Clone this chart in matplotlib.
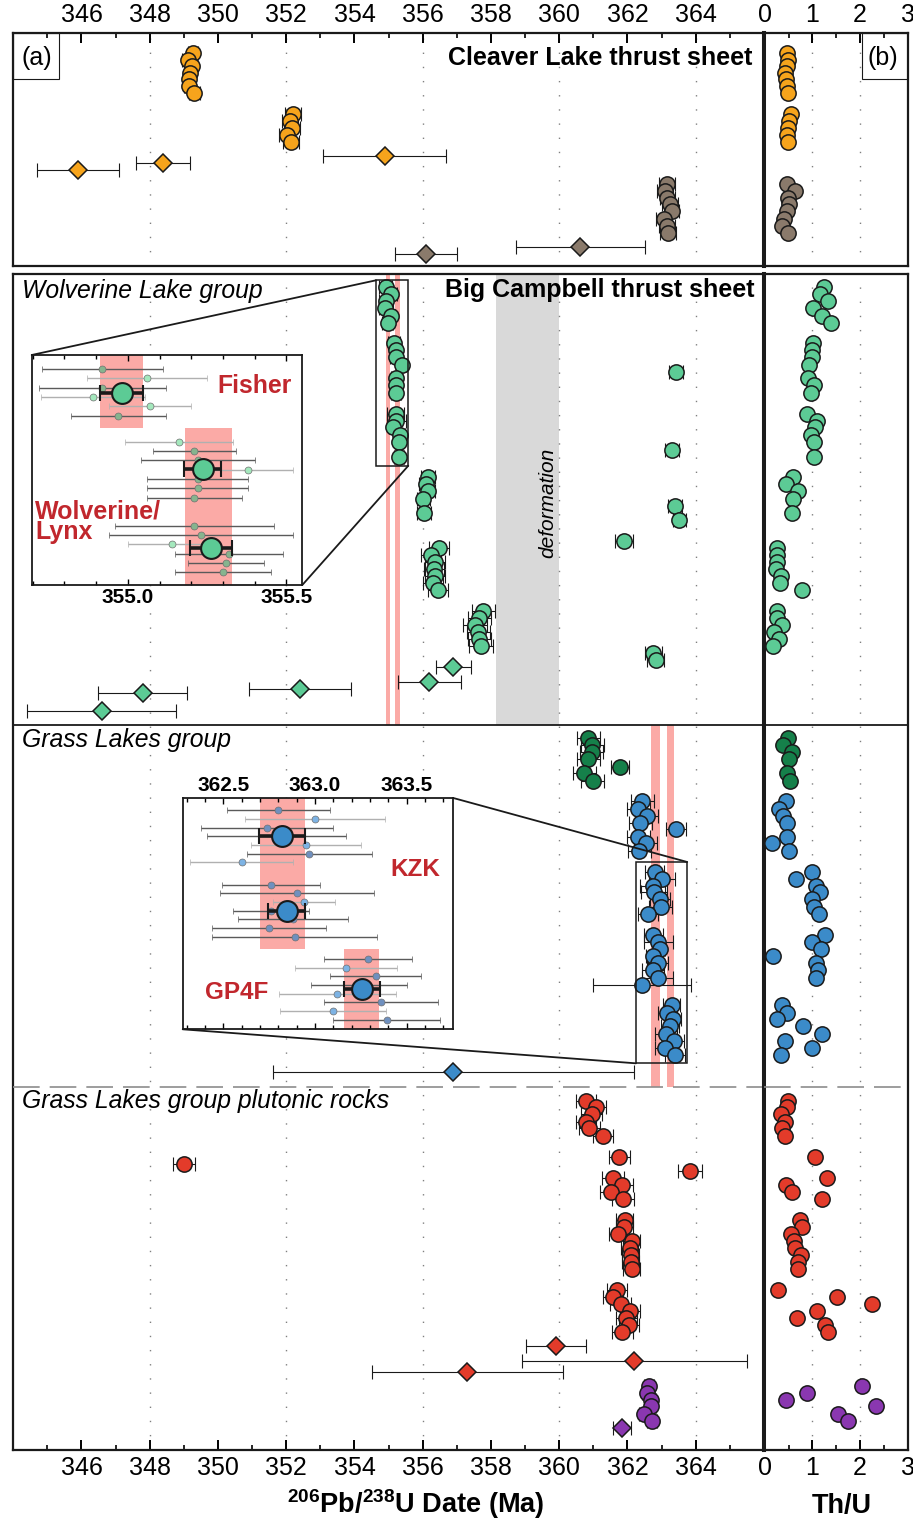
import matplotlib
matplotlib.use('Agg')
import matplotlib.pyplot as plt
from matplotlib.patches import Rectangle, ConnectionPatch
from matplotlib.ticker import FixedLocator, MultipleLocator, FormatStrFormatter

plt.rcParams['font.family'] = ['Liberation Sans', 'DejaVu Sans']
plt.rcParams['mathtext.fontset'] = 'custom'
plt.rcParams['mathtext.rm'] = 'Liberation Sans'
plt.rcParams['mathtext.bf'] = 'Liberation Sans:bold'

# ---------------- data ----------------
# rows = position of each grain in the stacked list (top panel / lower panel)

# Cleaver Lake thrust sheet
cl1_date = [349.26, 349.11, 349.23, 349.18, 349.14, 349.16, 349.31]
cl1_row = [2.8, 3.8, 4.7, 5.7, 6.6, 7.6, 8.6]
cl1_thu = [0.46, 0.49, 0.46, 0.42, 0.44, 0.47, 0.48]
cl2_date = [352.19, 352.11, 352.17, 352.03, 352.14]
cl2_row = [11.6, 12.6, 13.5, 14.6, 15.6]
cl2_thu = [0.55, 0.51, 0.49, 0.47, 0.48]
cl_dia_date = [354.89, 348.40, 345.89]
cl_dia_err = [1.80, 0.79, 1.20]
cl_dia_row = [17.6, 18.6, 19.6]
cl3_date = [363.15, 363.10, 363.17, 363.24, 363.29, 363.08, 363.15, 363.19]
cl3_row = [21.5, 22.5, 23.5, 24.4, 25.4, 26.5, 27.5, 28.5]
cl3_thu = [0.46, 0.63, 0.49, 0.51, 0.46, 0.41, 0.35, 0.48]
cl3_dia_date = [360.61, 356.10]
cl3_dia_err = [1.89, 0.91]
cl3_dia_row = [30.5, 31.5]

# Wolverine Lake group (Fisher, Wolverine/Lynx)
fi_date = [354.92, 355.06, 354.92, 354.89, 355.07, 354.97]
fi_err = [0.19, 0.19, 0.20, 0.165, 0.13, 0.15]
fi_light = [0, 1, 0, 1, 1, 0]
fi_row = [1.9, 2.9, 3.9, 4.9, 6.0, 7.0]
fi_thu = [1.25, 1.16, 1.32, 1.02, 1.21, 1.39]
fi_mean, fi_mean_err = 354.981, 0.068
wl1_date = [355.16, 355.21, 355.22, 355.38, 355.22, 355.22, 355.21]
wl1_err = [0.17, 0.13, 0.18, 0.14, 0.16, 0.16, 0.15]
wl1_light = [1, 0, 0, 1, 0, 0, 0]
wl1_row = [9.9, 10.9, 11.9, 13.0, 14.9, 15.9, 17.0]
wl1_thu = [1.02, 1.00, 0.98, 0.93, 0.91, 1.03, 0.97]
wl1_mean, wl1_mean_err = 355.236, 0.058
wl2_date = [355.21, 355.23, 355.14, 355.32, 355.31, 355.30]
wl2_err = [0.25, 0.29, 0.14, 0.17, 0.12, 0.15]
wl2_light = [0, 0, 1, 0, 0, 0]
wl2_row = [20.0, 21.0, 21.9, 23.0, 24.0, 26.1]
wl2_thu = [0.89, 1.10, 1.05, 0.97, 1.03, 1.03]
wl2_mean, wl2_mean_err = 355.262, 0.065
wl_bands = [(354.913, 355.049), (355.179, 355.328)]

g4_date = [356.145, 356.09, 356.145, 356.02, 356.04]
g4_row = [29.0, 30.0, 31.0, 32.1, 34.1]
g4_thu = [0.58, 0.44, 0.69, 0.58, 0.56]
g5_date = [356.485, 356.24, 356.36, 356.34, 356.36, 356.29, 356.45]
g5_row = [39.1, 40.1, 41.2, 42.1, 43.1, 44.2, 45.2]
g5_thu = [0.26, 0.26, 0.26, 0.23, 0.34, 0.32, 0.79]
g6_date = [357.77, 357.66, 357.53, 357.63, 357.66, 357.71]
g6_row = [48.1, 49.1, 50.1, 51.1, 52.1, 53.2]
g6_thu = [0.25, 0.25, 0.35, 0.20, 0.30, 0.16]
g_old_date = [363.42, 363.31, 363.40, 363.52, 361.90, 362.76, 362.83]
g_old_err = [0.2, 0.2, 0.2, 0.2, 0.27, 0.25, 0.25]
g_old_row = [14.0, 25.1, 33.1, 35.1, 38.1, 54.2, 55.2]
g_dia_date = [356.90, 356.19, 352.40, 347.79, 346.59]
g_dia_err = [0.50, 0.92, 1.50, 1.30, 2.18]
g_dia_row = [56.2, 58.3, 59.3, 59.8, 62.4]
deformation = (358.15, 360.0)

# Grass Lakes group
dg_date = [360.85, 360.97, 360.95, 360.85, 360.73, 360.98]
dg_row = [66.3, 67.3, 68.3, 69.3, 71.3, 72.4]
dg_thu = [0.48, 0.39, 0.56, 0.51, 0.46, 0.53]
dg_old_date = [361.78]
dg_old_row = [70.4]
b1_date = [362.43, 362.32, 362.56, 362.38, 362.32, 362.53, 362.35]
b1_row = [75.3, 76.4, 77.4, 78.4, 80.4, 81.3, 82.4]
b1_thu = [0.44, 0.29, 0.39, 0.46, 0.46, 0.15, 0.51]
b_old_date = [363.42, 362.43]
b_old_err = [0.30, 1.43]
b_old_row = [79.3, 101.5]
kz1_date = [362.80, 363.00, 362.736, 362.79, 362.949, 362.969, 362.60]
kz1_err = [0.28, 0.38, 0.36, 0.38, 0.30, 0.34, 0.28]
kz1_light = [0, 1, 0, 0, 1, 0, 1]
kz1_row = [85.4, 86.4, 87.4, 88.3, 89.3, 90.4, 91.4]
kz1_thu = [1.00, 0.65, 1.07, 1.16, 1.00, 1.03, 1.14]
kz1_mean, kz1_mean_err = 362.822, 0.126
kz2_date = [362.76, 362.90, 362.94, 362.76, 362.882, 362.749, 362.889]
kz2_err = [0.27, 0.42, 0.17, 0.21, 0.30, 0.31, 0.45]
kz2_light = [0, 0, 1, 0, 0, 0, 0]
kz2_row = [94.4, 95.4, 96.4, 97.4, 98.4, 99.4, 100.5]
kz2_thu = [1.26, 0.98, 1.18, 0.17, 1.07, 1.12, 1.07]
kz2_mean, kz2_mean_err = 362.845, 0.103
gp_date = [363.291, 363.169, 363.331, 363.24, 363.122, 363.36, 363.10, 363.391]
gp_err = [0.24, 0.28, 0.25, 0.26, 0.32, 0.31, 0.29, 0.29]
gp_light = [0, 1, 0, 0, 1, 0, 1, 0]
gp_row = [104.4, 105.5, 106.4, 107.4, 108.5, 109.5, 110.5, 111.5]
gp_thu = [0.36, 0.46, 0.26, 0.81, 1.19, 0.42, 1.00, 0.34]
gp_mean, gp_mean_err = 363.255, 0.098
gl_bands = [(362.70, 362.944), (363.158, 363.351)]
b_dia_date = [356.90]
b_dia_err = [5.30]
b_dia_row = [114.0]

# Grass Lakes group plutonic rocks
r1_date = [360.78, 361.08, 360.95, 360.78, 360.88, 361.28, 361.76]
r1_row = [118.1, 119.0, 120.0, 121.1, 122.0, 123.1, 126.1]
r1_thu = [0.48, 0.46, 0.33, 0.42, 0.36, 0.42, 1.05]
r_old_date = [349.01, 363.83]
r_old_err = [0.33, 0.34]
r_old_row = [127.2, 128.1]
r2_date = [361.58, 361.83, 361.52, 361.86]
r2_row = [129.2, 130.1, 131.2, 132.1]
r2_thu = [1.30, 0.44, 0.56, 1.19]
r3_date = [361.92, 361.90, 361.72, 362.12, 362.07, 362.10, 362.09, 362.12]
r3_row = [135.1, 136.1, 137.1, 138.1, 139.2, 140.1, 141.2, 142.2]
r3_thu = [0.74, 0.77, 0.54, 0.61, 0.63, 0.76, 0.69, 0.70]
r4_date = [361.70, 361.58, 361.80, 362.07, 361.97, 362.05, 361.85]
r4_row = [145.1, 146.2, 147.1, 148.1, 149.2, 150.2, 151.2]
r4_thu = [0.27, 1.52, 2.26, 1.10, 0.67, 1.26, 1.32]
r_dia_date = [359.90, 362.20, 357.30]
r_dia_err = [0.88, 3.30, 2.80]
r_dia_row = [153.2, 155.3, 156.8]
p_date = [362.63, 362.58, 362.68, 362.68, 362.49, 362.72]
p_row = [158.8, 159.8, 160.8, 161.7, 162.8, 163.8]
p_thu = [2.05, 0.89, 0.44, 2.33, 1.53, 1.74]
p_dia_date = [361.84]
p_dia_err = [0.27]
p_dia_row = [164.8]

# ---------------- style ----------------
ORANGE = '#f6a41c'
BROWN = '#8a7a6b'
GREEN = '#5ccb95'
DKGREEN = '#15804a'
BLUE = '#3b8bc9'
RED = '#e33b2a'
PURPLE = '#8a37b0'
PINK = '#fbaaa6'
DARKRED = '#c1272d'
EDGE = '#1a1a1a'

W, H = 913, 1520
fig = plt.figure(figsize=(W / 100, H / 100), dpi=100)


def px_axes(x0, y0, x1, y1):
    return fig.add_axes([x0 / W, 1 - y1 / H, (x1 - x0) / W, (y1 - y0) / H])


axa_t = px_axes(13.2, 33, 764, 266)
axa_b = px_axes(13.2, 274, 764, 1450)
axb_t = px_axes(764, 33, 908, 266)
axb_b = px_axes(764, 274, 908, 1450)

for ax in (axa_t, axa_b):
    ax.set_xlim(344, 366)
    ax.xaxis.set_major_locator(FixedLocator(range(346, 365, 2)))
    ax.xaxis.set_minor_locator(FixedLocator(range(345, 366, 2)))
    for g in range(348, 365, 4):
        ax.axvline(g, color='#808080', lw=1.0, dashes=(1, 9.2), zorder=1)
for ax in (axb_t, axb_b):
    ax.set_xlim(-0.02, 3.01)
    ax.xaxis.set_major_locator(FixedLocator([0, 1, 2, 3]))
    ax.xaxis.set_minor_locator(FixedLocator([0.5, 1.5, 2.5]))
    for g in (1, 2):
        ax.axvline(g, color='#808080', lw=1.0, dashes=(1, 9.2), zorder=1)
for ax in (axa_t, axb_t):
    ax.set_ylim(233 / 7, 0)
    ax.tick_params(which='both', direction='in', top=True, bottom=False,
                   labeltop=True, labelbottom=False)
for ax in (axa_b, axb_b):
    ax.set_ylim(1176 / 7, 0)
    ax.tick_params(which='both', direction='in', top=False, bottom=True,
                   labeltop=False, labelbottom=True)
for ax in (axa_t, axa_b, axb_t, axb_b):
    ax.set_yticks([])
    ax.tick_params(which='major', length=7, width=1.4, labelsize=18, pad=4)
    ax.tick_params(which='minor', length=3.5, width=1.2)
    for s in ax.spines.values():
        s.set_linewidth(1.6)
        s.set_color(EDGE)
for ax in (axa_t, axa_b):
    ax.spines['right'].set_linewidth(2.9)
for ax in (axb_t, axb_b):
    ax.spines['left'].set_linewidth(2.9)


def circles(ax, axt, date, row, err, color, thu=None):
    ax.errorbar(date, row, xerr=err, fmt='none', ecolor=EDGE, elinewidth=0.8,
                capsize=5, capthick=0.8, zorder=3)
    ax.plot(date, row, 'o', ms=11, mfc=color, mec=EDGE, mew=1.1, ls='none', zorder=4)
    if thu is not None:
        axt.plot(thu, row, 'o', ms=11, mfc=color, mec=EDGE, mew=1.1, ls='none', zorder=4)


def diamonds(ax, date, row, err, color):
    ax.errorbar(date, row, xerr=err, fmt='none', ecolor=EDGE, elinewidth=0.8,
                capsize=5, capthick=0.8, zorder=3)
    ax.plot(date, row, 'D', ms=9.5, mfc=color, mec=EDGE, mew=1.1, ls='none', zorder=4)


# ---- Cleaver Lake
circles(axa_t, axb_t, cl1_date, cl1_row, 0.15, ORANGE, cl1_thu)
circles(axa_t, axb_t, cl2_date, cl2_row, 0.23, ORANGE, cl2_thu)
diamonds(axa_t, cl_dia_date, cl_dia_row, cl_dia_err, ORANGE)
circles(axa_t, axb_t, cl3_date, cl3_row, 0.23, BROWN, cl3_thu)
diamonds(axa_t, cl3_dia_date, cl3_dia_row, cl3_dia_err, BROWN)

# ---- Wolverine Lake group
wl_bottom = 64.4
gl_bottom = 116.1
axa_b.fill_betweenx([0, wl_bottom], *deformation, color='#d9d9d9', lw=0, zorder=0.5)
for lo, hi in wl_bands:
    axa_b.fill_betweenx([0, wl_bottom], lo, hi, color=PINK, lw=0, zorder=2)
for lo, hi in gl_bands:
    axa_b.fill_betweenx([wl_bottom, gl_bottom], lo, hi, color=PINK, lw=0, zorder=2)

circles(axa_b, axb_b, fi_date, fi_row, fi_err, GREEN, fi_thu)
circles(axa_b, axb_b, wl1_date, wl1_row, wl1_err, GREEN, wl1_thu)
circles(axa_b, axb_b, wl2_date, wl2_row, wl2_err, GREEN, wl2_thu)
circles(axa_b, axb_b, g4_date, g4_row, 0.2, GREEN, g4_thu)
circles(axa_b, axb_b, g5_date, g5_row, 0.29, GREEN, g5_thu)
circles(axa_b, axb_b, g6_date, g6_row, 0.34, GREEN, g6_thu)
circles(axa_b, axb_b, g_old_date, g_old_row, g_old_err, GREEN)
diamonds(axa_b, g_dia_date, g_dia_row, g_dia_err, GREEN)

# ---- Grass Lakes group
circles(axa_b, axb_b, dg_date, dg_row, 0.34, DKGREEN, dg_thu)
circles(axa_b, axb_b, dg_old_date, dg_old_row, 0.25, DKGREEN)
circles(axa_b, axb_b, b1_date, b1_row, 0.34, BLUE, b1_thu)
circles(axa_b, axb_b, kz1_date, kz1_row, kz1_err, BLUE, kz1_thu)
circles(axa_b, axb_b, kz2_date, kz2_row, kz2_err, BLUE, kz2_thu)
circles(axa_b, axb_b, gp_date, gp_row, gp_err, BLUE, gp_thu)
circles(axa_b, axb_b, b_old_date, b_old_row, b_old_err, BLUE)
diamonds(axa_b, b_dia_date, b_dia_row, b_dia_err, BLUE)

# ---- plutonic rocks
circles(axa_b, axb_b, r1_date, r1_row, 0.3, RED, r1_thu)
circles(axa_b, axb_b, r_old_date, r_old_row, r_old_err, RED)
circles(axa_b, axb_b, r2_date, r2_row, 0.32, RED, r2_thu)
circles(axa_b, axb_b, r3_date, r3_row, 0.25, RED, r3_thu)
circles(axa_b, axb_b, r4_date, r4_row, 0.3, RED, r4_thu)
diamonds(axa_b, r_dia_date, r_dia_row, r_dia_err, RED)
circles(axa_b, axb_b, p_date, p_row, 0.15, PURPLE, p_thu)
diamonds(axa_b, p_dia_date, p_dia_row, p_dia_err, PURPLE)

# separators
for ax in (axa_b, axb_b):
    ax.axhline(wl_bottom, color=EDGE, lw=1.3, zorder=5)
    ax.axhline(gl_bottom, color='#8c8c8c', lw=1.2, dashes=(16, 6), zorder=5)

# labels in panels
axa_t.add_patch(Rectangle((344, 0), 46 / 34.13, 46 / 7, fill=False, ec=EDGE, lw=0.8, zorder=6))
axa_t.text(344.69, 3.6, '(a)', fontsize=18, ha='center', va='center')
axb_t.add_patch(Rectangle((2.05, 0), 0.96, 46 / 7, fill=False, ec=EDGE, lw=0.8, zorder=6))
axb_t.text(2.47, 3.6, '(b)', fontsize=18, ha='center', va='center')
axa_t.text(365.65, 4.57, 'Cleaver Lake thrust sheet', fontsize=18, fontweight='bold',
           ha='right', va='baseline')
axa_b.text(365.73, 3.25, 'Big Campbell thrust sheet', fontsize=18, fontweight='bold',
           ha='right', va='baseline')
axa_b.text(344.26, 3.4, 'Wolverine Lake group', fontsize=17.8, style='italic', va='baseline')
axa_b.text(344.26, 67.5, 'Grass Lakes group', fontsize=17.8, style='italic', va='baseline')
axa_b.text(344.26, 119.1, 'Grass Lakes group plutonic rocks', fontsize=17.8, style='italic',
           va='baseline')
axa_b.text(359.67, 32.7, 'deformation', fontsize=15, style='italic', rotation=90,
           ha='center', va='center')

fig.text(415.5 / W, 1 - 1513 / H, r'$^{\mathbf{206}}$Pb/$^{\mathbf{238}}$U Date (Ma)',
         fontsize=19.5, fontweight='bold', ha='center', va='baseline')
fig.text(842 / W, 1 - 1513 / H, 'Th/U', fontsize=19.5, fontweight='bold',
         ha='center', va='baseline')

# zoom boxes on the main panel
box1 = (354.63, 0.9, 355.576, 27.4)
box2 = (362.248, 84.0, 363.75, 112.76)
for x0, y0, x1, y1 in (box1, box2):
    axa_b.add_patch(Rectangle((x0, y0), x1 - x0, y1 - y0, fill=False, ec=EDGE,
                              lw=1.1, zorder=6))


def inset_group(ax, date, row, err, light, mean, mean_err, mean_row, pale, dull, color):
    for d, r, e, li in zip(date, row, err, light):
        ax.errorbar(d, r, xerr=e, fmt='o', ms=5, mfc=pale if li else dull,
                    mec='#707070', mew=0.5, ecolor='#b0b0b0' if li else '#5a5a5a',
                    elinewidth=1.0, capsize=2.4, capthick=1.0, zorder=3)
    ax.errorbar(mean, mean_row, xerr=mean_err, fmt='o', ms=15, mfc=color, mec=EDGE,
                mew=1.5, ecolor=EDGE, elinewidth=2.6, capsize=5.6, capthick=2.6, zorder=5)


def style_inset(ax, labels_top):
    ax.set_yticks([])
    ax.xaxis.set_major_formatter(FormatStrFormatter('%.1f'))
    ax.tick_params(which='both', direction='in', top=True, bottom=True,
                   labeltop=labels_top, labelbottom=not labels_top)
    ax.tick_params(which='major', length=4.5, width=1.0, labelsize=15, pad=2)
    ax.tick_params(which='minor', length=2.6, width=1.0)
    for lbl in ax.get_xticklabels():
        lbl.set_fontweight('bold')
    for s in ax.spines.values():
        s.set_linewidth(1.3)
        s.set_color(EDGE)


# inset (Wolverine Lake group)
ins1 = px_axes(31.7, 355, 302.3, 585)
ins1.set_xlim(354.697, 355.55)
ins1.set_ylim(24.65, 0)
ins1.xaxis.set_major_locator(FixedLocator([355.0, 355.5]))
ins1.xaxis.set_minor_locator(MultipleLocator(0.1))
ins1.fill_betweenx([0, 7.86], *wl_bands[0], color=PINK, lw=0, zorder=1)
ins1.fill_betweenx([7.86, 24.65], *wl_bands[1], color=PINK, lw=0, zorder=1)
inset_group(ins1, fi_date, [r + 1.5 for r in range(6)], fi_err, fi_light,
            fi_mean, fi_mean_err, 4.04, '#a4e8bd', '#86b48e', GREEN)
inset_group(ins1, wl1_date, [r + 9.3 for r in range(7)], wl1_err, wl1_light,
            wl1_mean, wl1_mean_err, 12.25, '#a4e8bd', '#86b48e', GREEN)
inset_group(ins1, wl2_date, [r + 18.3 for r in range(6)], wl2_err, wl2_light,
            wl2_mean, wl2_mean_err, 20.7, '#a4e8bd', '#86b48e', GREEN)
ins1.text(355.283, 4.04, 'Fisher', fontsize=17.8, fontweight='bold', color=DARKRED,
          va='baseline')
ins1.text(354.708, 17.5, 'Wolverine/', fontsize=18, fontweight='bold', color=DARKRED,
          va='baseline')
ins1.text(354.708, 19.75, 'Lynx', fontsize=18, fontweight='bold', color=DARKRED,
          va='baseline')
style_inset(ins1, False)

# inset (Grass Lakes group)
ins2 = px_axes(182.7, 798, 453.3, 1029.3)
ins2.set_xlim(362.278, 363.755)
ins2.set_ylim(26.68, 0)
ins2.xaxis.set_major_locator(FixedLocator([362.5, 363.0, 363.5]))
ins2.xaxis.set_minor_locator(MultipleLocator(0.1))
ins2.fill_betweenx([0, 17.38], *gl_bands[0], color=PINK, lw=0, zorder=1)
ins2.fill_betweenx([17.38, 26.68], *gl_bands[1], color=PINK, lw=0, zorder=1)
inset_group(ins2, kz1_date, [r + 1.42 for r in range(7)], kz1_err, kz1_light,
            kz1_mean, kz1_mean_err, 4.42, '#7db3e4', '#6f90bf', BLUE)
inset_group(ins2, kz2_date, [r + 10.0 for r in range(7)], kz2_err, kz2_light,
            kz2_mean, kz2_mean_err, 13.0, '#7db3e4', '#6f90bf', BLUE)
inset_group(ins2, gp_date, [r + 18.57 for r in range(8)], gp_err, gp_light,
            gp_mean, gp_mean_err, 22.07, '#7db3e4', '#6f90bf', BLUE)
ins2.text(363.409, 8.96, 'KZK', fontsize=17.5, fontweight='bold', color=DARKRED,
          va='baseline')
ins2.text(362.40, 23.2, 'GP4F', fontsize=17.5, fontweight='bold', color=DARKRED,
          va='baseline')
style_inset(ins2, True)

# connector lines
links = [(ins1, (0, 1), (box1[0], box1[1])), (ins1, (1, 0), (box1[2], box1[3])),
         (ins2, (1, 1), (box2[2], box2[1])), (ins2, (0, 0), (box2[0], box2[3]))]
for ins, a, b in links:
    fig.add_artist(ConnectionPatch(xyA=a, coordsA=ins.transAxes, xyB=b,
                                   coordsB=axa_b.transData, color=EDGE, lw=1.3))

fig.savefig('out.png', dpi=100)
